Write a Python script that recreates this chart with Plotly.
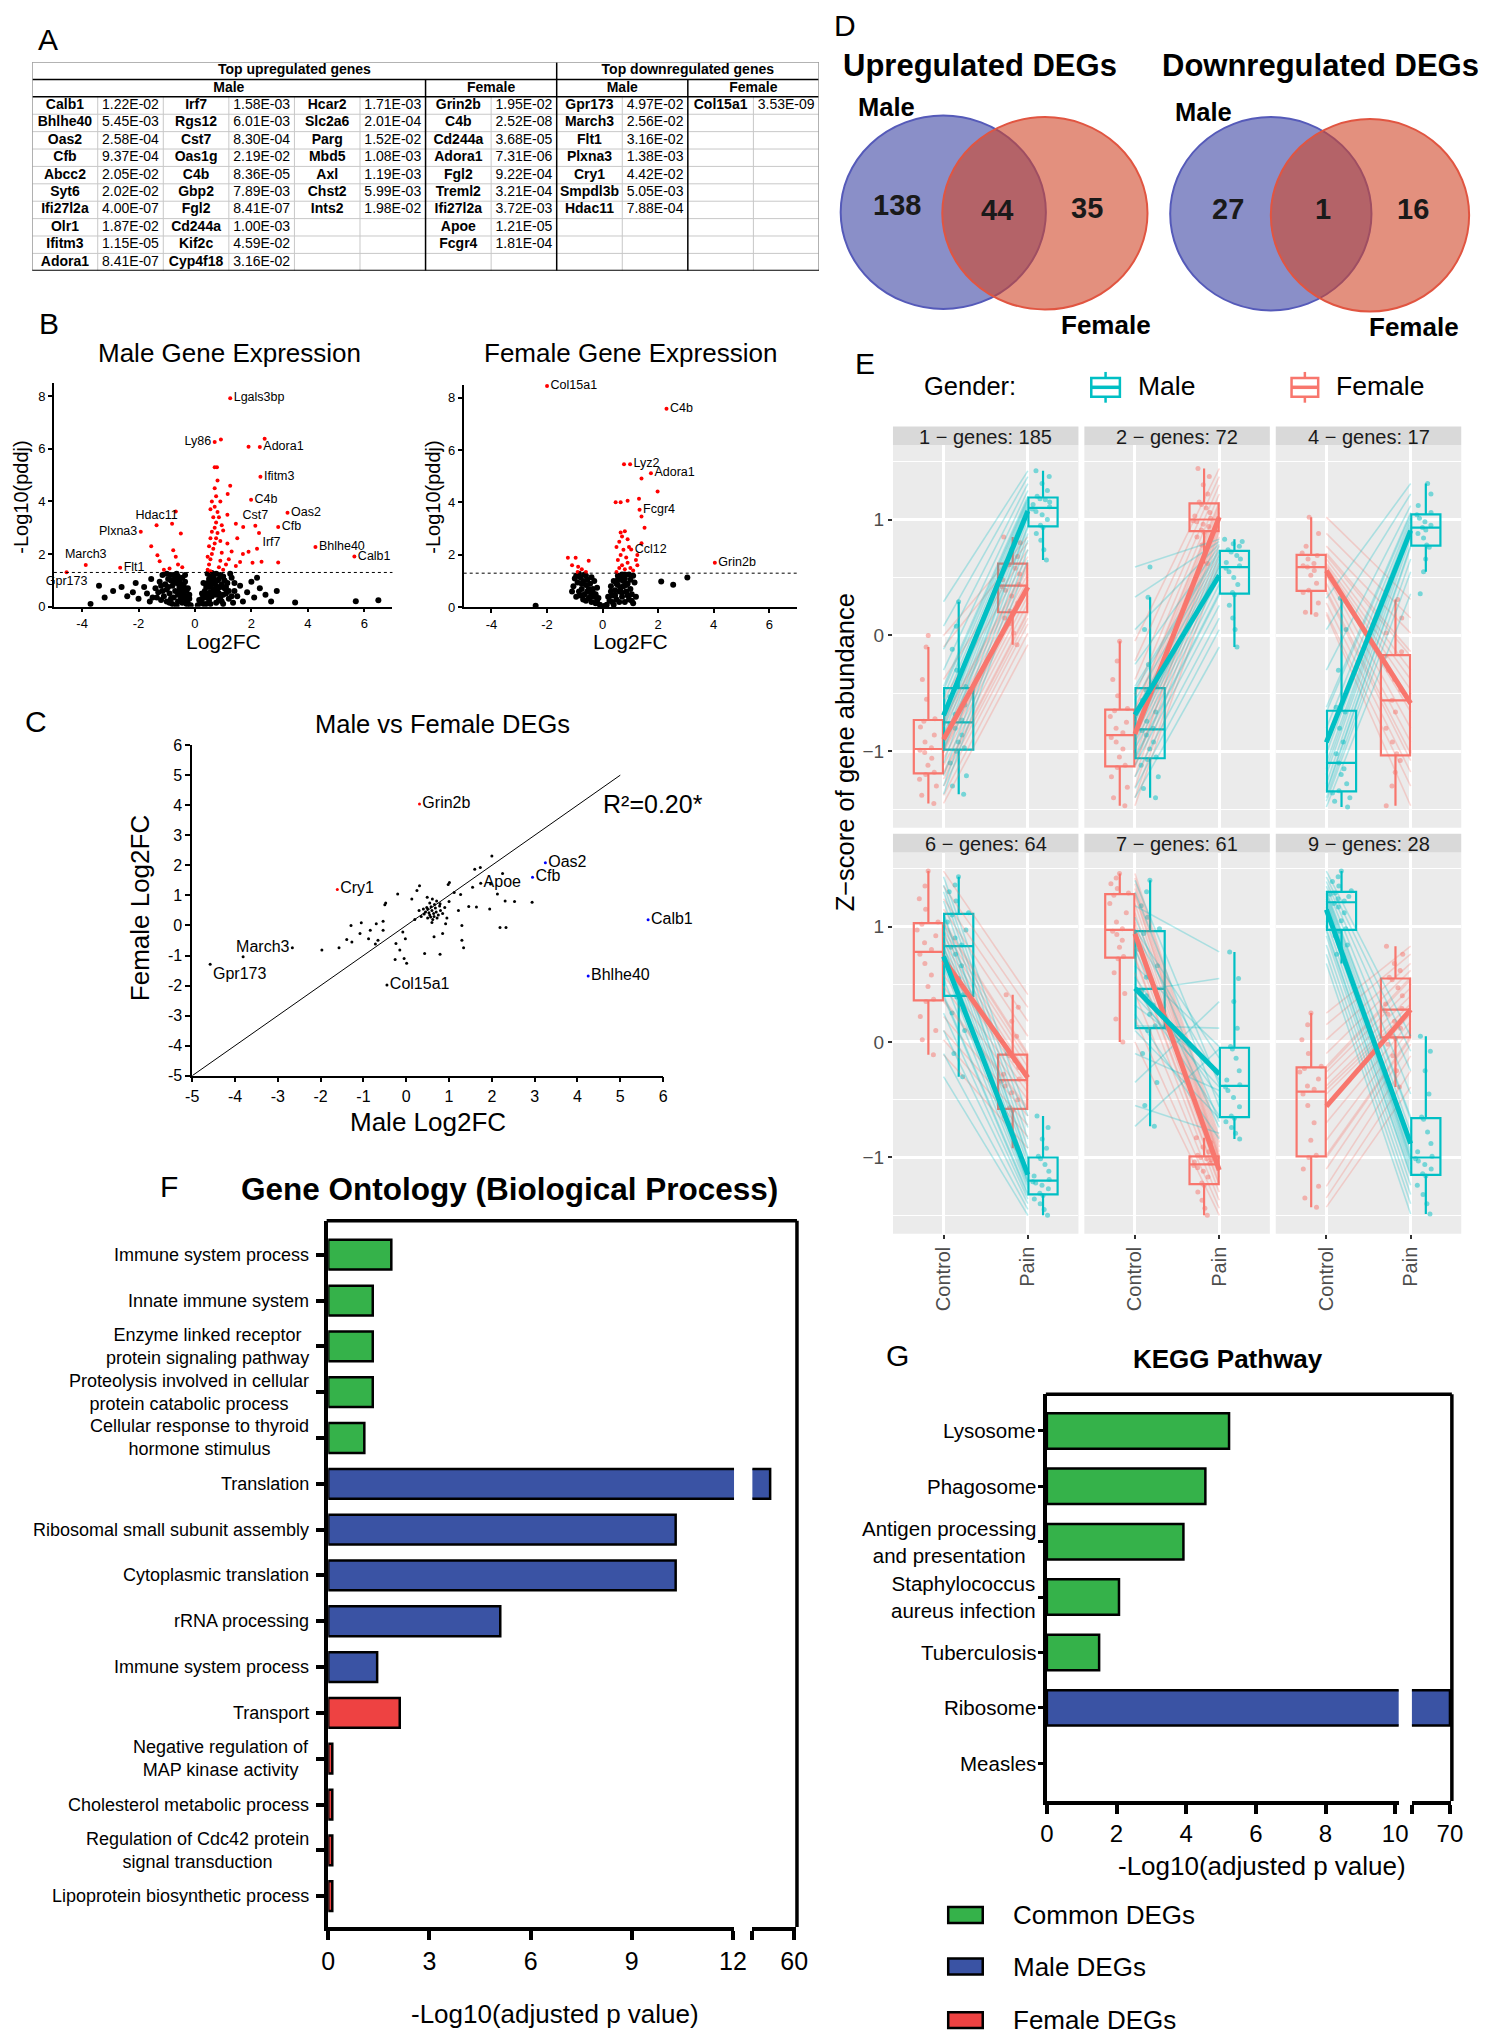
import numpy as np
import plotly.graph_objects as go

W, H = 1492, 2040
ARIAL = "Liberation Sans, Arial, Helvetica, sans-serif"
TEAL, SALMON = "#00BFC4", "#F8766D"
GREEN, BLUE, RED = "#35b24a", "#3a53a4", "#ee4242"

# ======================= DATA =======================
# ---- Panel A : table ----
up_male_g1 = ["Calb1", "Bhlhe40", "Oas2", "Cfb", "Abcc2", "Syt6", "Ifi27l2a", "Olr1", "Ifitm3", "Adora1"]
up_male_p1 = ["1.22E-02", "5.45E-03", "2.58E-04", "9.37E-04", "2.05E-02", "2.02E-02", "4.00E-07", "1.87E-02", "1.15E-05", "8.41E-07"]
up_male_g2 = ["Irf7", "Rgs12", "Cst7", "Oas1g", "C4b", "Gbp2", "Fgl2", "Cd244a", "Kif2c", "Cyp4f18"]
up_male_p2 = ["1.58E-03", "6.01E-03", "8.30E-04", "2.19E-02", "8.36E-05", "7.89E-03", "8.41E-07", "1.00E-03", "4.59E-02", "3.16E-02"]
up_male_g3 = ["Hcar2", "Slc2a6", "Parg", "Mbd5", "Axl", "Chst2", "Ints2"]
up_male_p3 = ["1.71E-03", "2.01E-04", "1.52E-02", "1.08E-03", "1.19E-03", "5.99E-03", "1.98E-02"]
up_female_g = ["Grin2b", "C4b", "Cd244a", "Adora1", "Fgl2", "Treml2", "Ifi27l2a", "Apoe", "Fcgr4"]
up_female_p = ["1.95E-02", "2.52E-08", "3.68E-05", "7.31E-06", "9.22E-04", "3.21E-04", "3.72E-03", "1.21E-05", "1.81E-04"]
down_male_g = ["Gpr173", "March3", "Flt1", "Plxna3", "Cry1", "Smpdl3b", "Hdac11"]
down_male_p = ["4.97E-02", "2.56E-02", "3.16E-02", "1.38E-03", "4.42E-02", "5.05E-03", "7.88E-04"]
down_female_g = ["Col15a1"]
down_female_p = ["3.53E-09"]
table_headers = ["Top upregulated genes", "Top downregulated genes"]
table_subheaders = ["Male", "Female", "Male", "Female"]

# ---- Panel B : volcano plots (Log2FC, -log10 padj) ----
male_black = [(-0.15, 0.05), (-0.25, 0.12), (-0.3, 0.25), (-0.35, 0.4), (-0.4, 0.55), (-0.45, 0.7), (-0.5, 0.85),
              (-0.55, 1.0), (-0.6, 1.15), (-0.65, 1.25), (-0.7, 1.1), (-0.75, 0.95), (-0.8, 0.8), (-0.7, 0.6),
              (-0.6, 0.45), (-0.5, 0.3), (-0.45, 0.15), (-0.6, 0.2), (-0.75, 0.35), (-0.9, 0.5), (-1.0, 0.65),
              (-1.05, 0.85), (-0.95, 1.05), (-0.85, 1.2), (-1.1, 0.4), (-1.2, 0.25), (-0.9, 0.15), (-1.3, 0.55),
              (-1.4, 0.7), (-1.25, 0.95), (-1.5, 0.35), (-1.6, 0.2), (-1.7, 0.5), (-1.8, 0.75), (-2.0, 0.3),
              (-2.2, 0.55), (-2.4, 0.4), (-2.6, 0.75), (-2.9, 0.6), (-3.2, 0.35), (-3.4, 0.8), (-3.7, 0.1),
              (-2.1, 0.9), (-1.55, 1.05), (-0.35, 0.95), (-0.25, 0.7), (-0.2, 0.45), (-1.15, 1.2), (-0.55, 0.6),
              (-0.8, 0.1), (0.1, 0.05), (0.2, 0.15), (0.25, 0.3), (0.3, 0.45), (0.35, 0.6), (0.4, 0.75), (0.45, 0.9),
              (0.5, 1.05), (0.55, 1.2), (0.6, 1.28), (0.65, 1.1), (0.7, 0.95), (0.75, 0.8), (0.8, 0.65), (0.85, 0.5),
              (0.9, 0.35), (0.95, 0.2), (1.0, 0.1), (0.6, 0.4), (0.5, 0.25), (0.7, 0.55), (0.4, 0.1), (0.75, 1.25),
              (0.85, 1.05), (0.95, 0.85), (1.05, 0.7), (1.1, 0.5), (1.2, 0.3), (1.15, 0.9), (1.3, 1.1), (1.4, 0.6),
              (1.5, 0.4), (1.6, 0.8), (1.7, 0.2), (1.85, 0.55), (2.0, 0.95), (2.1, 0.35), (2.3, 0.7), (2.5, 0.45),
              (2.7, 0.2), (2.9, 0.6), (3.55, 0.16), (5.7, 0.21), (6.5, 0.24), (1.35, 0.15), (0.3, 0.9), (0.45, 1.25),
              (0.9, 1.2), (1.25, 1.25), (2.2, 1.1),
              (-0.3, 0.1), (-0.4, 0.35), (-0.5, 0.5), (-0.55, 0.75), (-0.65, 0.9), (-0.75, 1.2), (-0.85, 1.0),
              (-0.95, 0.75), (-0.85, 0.3), (-1.0, 0.2), (-1.15, 0.6), (-1.2, 0.8), (-1.35, 0.35), (-0.65, 0.05),
              (-0.2, 0.3), (-0.3, 0.6), (-0.4, 0.8), (-0.45, 1.1), (-0.35, 1.2), (-1.0, 1.25), (0.15, 0.25),
              (0.25, 0.5), (0.35, 0.35), (0.4, 0.5), (0.45, 0.4), (0.55, 0.55), (0.5, 0.75), (0.6, 0.85),
              (0.65, 0.65), (0.55, 0.95), (0.65, 1.2), (0.8, 1.0), (0.9, 0.75), (0.75, 0.45), (0.85, 0.25),
              (1.0, 0.45), (1.1, 0.75), (1.05, 1.0), (1.2, 0.6), (1.3, 0.4), (0.3, 0.1), (0.55, 0.1), (0.75, 0.15),
              (1.4, 0.9), (1.0, 1.15)]
male_red = [(0.45, 1.4), (0.5, 1.6), (0.55, 1.8), (0.6, 2.0), (0.65, 2.2), (0.7, 2.4), (0.75, 2.6), (0.8, 2.8),
            (0.7, 3.0), (0.75, 3.2), (0.65, 3.4), (0.8, 3.6), (0.7, 3.8), (0.6, 4.0), (0.75, 4.2), (0.7, 4.5),
            (0.8, 4.8), (0.7, 5.3), (0.78, 5.3), (0.55, 1.35), (0.85, 1.5), (0.9, 1.75), (0.95, 2.05), (0.5, 2.3),
            (0.55, 2.6), (0.9, 2.5), (0.6, 2.85), (0.95, 3.1), (0.85, 3.4), (0.55, 3.7), (0.9, 4.0), (0.45, 1.9),
            (1.0, 1.4), (1.1, 1.6), (1.2, 1.8), (1.15, 2.4), (1.3, 2.1), (1.0, 2.9), (1.15, 3.5), (1.25, 4.6),
            (1.45, 1.55), (1.6, 1.7), (1.7, 2.0), (1.5, 2.6), (1.45, 3.15), (1.71, 3.03), (1.16, 4.28), (1.9, 2.09),
            (2.2, 2.2), (2.04, 1.67), (2.36, 1.71), (2.95, 1.68), (0.92, 6.36), (1.9, 6.08), (2.47, 6.39),
            (-0.68, 3.62), (-0.81, 3.15), (-0.5, 2.78), (-1.55, 2.3), (-1.33, 1.96), (-1.25, 1.73), (-0.77, 2.15),
            (-0.68, 1.9), (-0.6, 1.6), (-0.9, 1.45), (-1.1, 1.4), (-0.45, 1.5)]
male_lab_gene = ["Lgals3bp", "Ly86", "Adora1", "Ifitm3", "C4b", "Oas2", "Cst7", "Cfb", "Irf7", "Bhlhe40", "Calb1",
                 "Hdac11", "Plxna3", "March3", "Flt1", "Gpr173"]
male_lab_x = [1.25, 0.70, 2.30, 2.32, 1.99, 3.28, 2.14, 2.95, 2.27, 4.27, 5.65, -1.36, -1.92, -3.87, -2.65, -4.55]
male_lab_y = [7.93, 6.26, 6.07, 4.94, 4.07, 3.57, 3.08, 3.03, 2.80, 2.27, 1.91, 3.10, 2.85, 1.58, 1.48, 1.31]
male_lab_pos = ["middle right", "middle left", "middle right", "middle right", "middle right", "middle right",
                "top center", "middle right", "bottom right", "middle right", "middle right", "top center",
                "middle left", "top center", "middle right", "bottom center"]

female_black = [(0.05, 0.05), (-0.1, 0.1), (-0.2, 0.25), (-0.3, 0.4), (-0.4, 0.55), (-0.5, 0.7), (-0.6, 0.85),
                (-0.7, 1.0), (-0.8, 1.15), (-0.85, 1.28), (-0.6, 1.2), (-0.45, 0.9), (-0.35, 0.7), (-0.25, 0.5),
                (-0.5, 0.35), (-0.65, 0.5), (-0.75, 0.7), (-0.9, 0.95), (-1.0, 1.1), (-0.4, 0.2), (-0.7, 0.3),
                (-0.85, 0.6), (-1.05, 0.8), (-0.55, 1.05), (-0.3, 1.0), (-0.95, 0.4), (-1.1, 0.6), (-2.41, 0.06),
                (-0.2, 0.75), (-0.65, 1.25), (0.15, 0.1), (0.25, 0.25), (0.35, 0.45), (0.45, 0.65), (0.55, 0.85),
                (0.65, 1.05), (0.7, 1.25), (0.8, 1.1), (0.9, 0.9), (1.0, 0.7), (1.05, 0.5), (0.95, 0.3), (0.7, 0.4),
                (0.6, 0.6), (0.75, 0.8), (0.85, 0.6), (0.5, 0.3), (0.4, 0.1), (0.3, 0.8), (1.1, 1.2), (0.95, 1.25),
                (1.15, 0.95), (0.55, 1.2), (0.4, 1.0), (1.2, 0.4), (0.8, 0.2), (2.11, 0.98), (2.54, 0.86),
                (3.05, 1.14), (1.1, 0.15),
                (-0.15, 0.35), (-0.25, 0.15), (-0.35, 0.55), (-0.45, 0.4), (-0.55, 0.6), (-0.6, 0.25), (-0.8, 0.45),
                (-0.75, 0.9), (-0.4, 1.15), (-0.95, 1.2), (0.2, 0.4), (0.3, 0.6), (0.45, 0.45), (0.5, 0.9),
                (0.6, 0.2), (0.65, 0.75), (0.75, 1.0), (0.85, 0.85), (0.9, 0.45), (1.0, 1.05), (0.55, 1.05),
                (0.35, 0.2), (1.05, 0.25), (0.8, 1.25), (0.7, 0.55)]
female_red = [(0.5, 1.35), (0.6, 1.5), (0.7, 1.6), (0.8, 1.45), (0.9, 1.7), (1.0, 1.5), (0.55, 1.8), (0.65, 2.0),
              (0.75, 2.2), (0.85, 1.9), (0.95, 2.3), (0.6, 2.5), (0.7, 2.7), (0.8, 2.9), (0.9, 2.6), (0.5, 2.3),
              (1.1, 1.4), (1.2, 1.8), (1.25, 1.6), (0.65, 2.85), (0.47, 4.01), (0.65, 4.01), (0.9, 4.07),
              (1.31, 4.14), (1.4, 3.47), (1.51, 3.04), (1.4, 2.44), (1.4, 4.92), (1.98, 4.42), (0.77, 5.46),
              (1.25, 2.0), (-1.25, 1.89), (-0.97, 1.89), (-0.88, 1.55), (-0.5, 1.78), (-0.75, 1.45), (-1.1, 1.6),
              (-0.6, 1.35), (-0.9, 1.35)]
female_lab_gene = ["Col15a1", "C4b", "Lyz2", "Adora1", "Fcgr4", "Ccl12", "Grin2b"]
female_lab_x = [-2.0, 2.3, 0.99, 1.74, 1.33, 1.03, 4.04]
female_lab_y = [8.45, 7.58, 5.46, 5.12, 3.72, 2.21, 1.70]
female_lab_pos = ["middle right"] * 7
volcano_xticks = [-4, -2, 0, 2, 4, 6]
volcano_yticks = [0, 2, 4, 6, 8]
padj_cutoff = 0.05

# ---- Panel C : male vs female log2FC ----
c_points = [(2.0, 2.31), (1.73, 1.93), (1.6, 1.87), (2.25, 1.73), (1.01, 1.43), (0.98, 1.36), (0.31, 1.32),
            (1.55, 1.27), (2.13, 1.05), (-0.2, 1.05), (1.12, 1.1), (1.27, 1.03), (2.31, 0.81), (2.53, 0.8),
            (2.94, 0.77), (1.95, 0.55), (1.64, 0.61), (1.46, 0.63), (1.22, 0.5), (-0.48, 0.75), (0.13, 0.88),
            (0.49, 0.94), (0.79, 0.72), (0.71, 0.81), (2.19, -0.07), (2.33, -0.07), (1.3, 0.0), (0.92, 0.06),
            (0.85, -0.27), (0.65, -0.38), (1.3, -0.49), (1.34, -0.74), (0.79, -0.96), (0.43, -0.93), (-0.08, -0.22),
            (-0.02, -0.44), (-0.24, -0.6), (-0.15, -0.82), (-0.26, -1.13), (-0.05, -1.1), (0.01, -1.26),
            (-0.72, -0.62), (-0.84, -0.16), (-0.7, 0.06), (-0.54, 0.14), (-0.54, -0.16), (-1.05, 0.09),
            (-1.08, -0.27), (-1.29, 0.0), (-1.39, -0.47), (-1.27, -0.55), (-1.57, -0.74), (-1.97, -0.82),
            (-0.88, -0.44), (-0.66, -0.49), (-0.5, 0.69), (0.25, 1.16), (0.61, 0.88), (1.97, 1.38), (-3.81, -1.04),
            (0.45, 0.45), (0.5, 0.55), (0.55, 0.35), (0.6, 0.5), (0.65, 0.3), (0.7, 0.45), (0.5, 0.25),
            (0.58, 0.62), (0.62, 0.2), (0.68, 0.58), (0.42, 0.38), (0.75, 0.35), (0.8, 0.5), (0.53, 0.42),
            (0.64, 0.4), (0.57, 0.28), (0.48, 0.6), (0.72, 0.25), (0.85, 0.4), (0.4, 0.55), (0.66, 0.7),
            (0.55, 0.75), (0.9, 0.6), (0.35, 0.3), (0.6, 0.1), (0.95, 0.25), (0.3, 0.5), (0.78, 0.65), (1.0, 0.8),
            (0.2, 0.2)]
c_lab_gene = ["Grin2b", "Cry1", "Oas2", "Cfb", "Apoe", "Calb1", "Bhlhe40", "Col15a1", "March3", "Gpr173"]
c_lab_x = [0.31, -1.61, 3.25, 2.95, 1.74, 5.65, 4.25, -0.45, -2.66, -4.58]
c_lab_y = [4.04, 1.20, 2.09, 1.60, 1.40, 0.19, -1.68, -1.98, -0.74, -1.29]
c_lab_color = ["red", "red", "blue", "blue", "black", "blue", "blue", "black", "black", "black"]
c_lab_pos = ["middle right", "middle right", "middle right", "middle right", "middle right", "middle right",
             "middle right", "middle right", "middle left", "bottom right"]
c_ticks = [-5, -4, -3, -2, -1, 0, 1, 2, 3, 4, 5, 6]
c_identity = [-5, 5]
c_r2_text = "R²=0.20*"

# ---- Panel D : Venn counts (male only, shared, female only) ----
venn_titles = ["Upregulated DEGs", "Downregulated DEGs"]
venn_up = [138, 44, 35]
venn_down = [27, 1, 16]

# ---- Panel E : z-scores per cluster (paired Control/Pain values per gene) ----
e_clusters = [1, 2, 4, 6, 7, 9]
e_sizes = [185, 72, 17, 64, 61, 28]
c1_f_ctrl = [-1.45, -1.38, -1.30, -1.24, -1.20, -1.18, -1.12, -1.06, -1.01, -0.99, -0.97, -0.92, -0.86, -0.79, -0.74, -0.72, -0.55, -0.38, -0.10, 0.00]
c1_f_pain = [-0.08, 0.02, 0.10, 0.15, 0.19, 0.21, 0.28, 0.34, 0.39, 0.42, 0.44, 0.48, 0.53, 0.58, 0.61, 0.63, 0.68, 0.74, 0.80, 0.85]
c1_m_ctrl = [-1.37, -1.30, -1.21, -1.10, -1.00, -0.97, -0.92, -0.86, -0.80, -0.77, -0.73, -0.68, -0.60, -0.53, -0.47, -0.44, -0.30, -0.12, 0.08, 0.29]
c1_m_pain = [0.65, 0.74, 0.82, 0.88, 0.93, 0.95, 1.00, 1.04, 1.07, 1.09, 1.11, 1.13, 1.15, 1.17, 1.18, 1.20, 1.25, 1.31, 1.37, 1.42]
c2_f_ctrl = [-1.47, -1.40, -1.31, -1.22, -1.14, -1.12, -1.05, -0.98, -0.92, -0.88, -0.84, -0.80, -0.75, -0.70, -0.65, -0.63, -0.52, -0.38, -0.22, -0.05]
c2_f_pain = [0.62, 0.70, 0.78, 0.85, 0.89, 0.91, 0.94, 0.96, 0.98, 0.99, 1.01, 1.03, 1.06, 1.10, 1.13, 1.15, 1.22, 1.30, 1.37, 1.44]
c2_m_ctrl = [-1.40, -1.32, -1.22, -1.12, -1.07, -1.05, -0.98, -0.92, -0.86, -0.82, -0.80, -0.74, -0.66, -0.56, -0.47, -0.44, -0.25, 0.05, 0.33, 0.59]
c2_m_pain = [-0.10, 0.05, 0.15, 0.26, 0.35, 0.37, 0.44, 0.50, 0.55, 0.58, 0.60, 0.63, 0.66, 0.69, 0.72, 0.74, 0.77, 0.79, 0.81, 0.83]
c4_f_ctrl = [0.18, 0.20, 0.28, 0.37, 0.39, 0.45, 0.52, 0.56, 0.59, 0.60, 0.62, 0.66, 0.69, 0.71, 0.77, 0.88, 1.02]
c4_f_pain = [-1.47, -1.30, -1.18, -1.08, -1.02, -0.92, -0.80, -0.66, -0.56, -0.47, -0.38, -0.30, -0.18, -0.14, 0.02, 0.15, 0.31]
c4_m_ctrl = [-1.48, -1.43, -1.40, -1.36, -1.34, -1.28, -1.20, -1.15, -1.10, -1.02, -0.92, -0.80, -0.66, -0.62, -0.30, 0.05, 0.32]
c4_m_pain = [0.36, 0.55, 0.66, 0.76, 0.78, 0.84, 0.88, 0.91, 0.93, 0.95, 0.98, 1.01, 1.04, 1.06, 1.12, 1.22, 1.31]
c6_f_ctrl = [-0.11, 0.02, 0.10, 0.22, 0.35, 0.37, 0.48, 0.58, 0.68, 0.76, 0.80, 0.86, 0.92, 0.97, 1.02, 1.04, 1.15, 1.24, 1.35, 1.48]
c6_f_pain = [-0.92, -0.82, -0.72, -0.64, -0.59, -0.57, -0.50, -0.44, -0.38, -0.34, -0.32, -0.28, -0.22, -0.16, -0.12, -0.10, 0.05, 0.18, 0.30, 0.41]
c6_m_ctrl = [-0.30, -0.10, 0.10, 0.25, 0.39, 0.41, 0.55, 0.66, 0.76, 0.82, 0.84, 0.90, 0.97, 1.04, 1.10, 1.12, 1.22, 1.30, 1.36, 1.43]
c6_m_pain = [-1.50, -1.45, -1.40, -1.36, -1.33, -1.31, -1.27, -1.24, -1.22, -1.21, -1.19, -1.16, -1.12, -1.06, -1.01, -0.99, -0.92, -0.84, -0.74, -0.64]
c7_f_ctrl = [0.00, 0.20, 0.42, 0.60, 0.72, 0.74, 0.82, 0.88, 0.93, 0.96, 0.98, 1.04, 1.12, 1.20, 1.27, 1.29, 1.33, 1.37, 1.42, 1.46]
c7_f_pain = [-1.50, -1.44, -1.37, -1.30, -1.24, -1.22, -1.17, -1.12, -1.09, -1.07, -1.05, -1.04, -1.02, -1.01, -1.00, -0.98, -0.95, -0.91, -0.87, -0.83]
c7_m_ctrl = [-0.73, -0.55, -0.35, -0.10, 0.10, 0.14, 0.24, 0.32, 0.40, 0.44, 0.48, 0.56, 0.66, 0.80, 0.94, 0.98, 1.08, 1.18, 1.30, 1.40]
c7_m_pain = [-0.06, -0.79, 0.35, -0.42, -0.66, 0.12, -0.84, -0.25, -0.39, 0.55, -0.64, -0.48, -0.04, -0.74, -0.33, -0.14, -0.69, 0.78, -0.56, -0.37]
c9_f_ctrl = [-1.43, -1.35, -1.25, -1.10, -1.00, -0.98, -0.85, -0.70, -0.55, -0.45, -0.41, -0.38, -0.32, -0.26, -0.23, -0.21, -0.10, 0.02, 0.15, 0.25]
c9_f_pain = [-0.39, -0.25, -0.12, -0.02, 0.03, 0.05, 0.12, 0.18, 0.24, 0.27, 0.29, 0.33, 0.40, 0.47, 0.54, 0.56, 0.62, 0.68, 0.76, 0.83]
c9_m_ctrl = [0.68, 0.76, 0.84, 0.92, 0.96, 0.98, 1.05, 1.12, 1.17, 1.20, 1.22, 1.24, 1.26, 1.28, 1.29, 1.31, 1.35, 1.39, 1.43, 1.48]
c9_m_pain = [-1.49, -1.40, -1.32, -1.24, -1.16, -1.14, -1.10, -1.06, -1.03, -1.01, -0.99, -0.95, -0.88, -0.78, -0.67, -0.65, -0.45, -0.25, -0.08, 0.05]
e_conditions = ["Control", "Pain"]
e_yticks = [-1, 0, 1]

# ---- Panel F : GO biological process ----
go_terms = ["Immune system process", "Innate immune system", "Enzyme linked receptor<br>protein signaling pathway",
            "Proteolysis involved in cellular<br>protein catabolic process",
            "Cellular response to thyroid<br>hormone stimulus", "Translation", "Ribosomal small subunit assembly",
            "Cytoplasmic translation", "rRNA processing", "Immune system process", "Transport",
            "Negative regulation of<br>MAP kinase activity", "Cholesterol metabolic process",
            "Regulation of Cdc42 protein<br>signal transduction", "Lipoprotein biosynthetic process"]
go_values = [1.87, 1.32, 1.32, 1.32, 1.07, 57.7, 10.3, 10.3, 5.1, 1.45, 2.12, 0.12, 0.12, 0.12, 0.12]
go_group = ["Common"] * 5 + ["Male"] * 5 + ["Female"] * 5
go_ticks_left = [0, 3, 6, 9, 12]
go_tick_right = 60

# ---- Panel G : KEGG ----
kegg_terms = ["Lysosome", "Phagosome", "Antigen processing<br>and presentation", "Staphylococcus<br>aureus infection",
              "Tuberculosis", "Ribosome", "Measles"]
kegg_values = [5.23, 4.55, 3.92, 2.07, 1.50, 70.0, 0.0]
kegg_group = ["Common"] * 5 + ["Male", "Female"]
kegg_ticks_left = [0, 2, 4, 6, 8, 10]
kegg_tick_right = 70
legend_groups = ["Common", "Male", "Female"]
legend_labels = ["Common DEGs", "Male DEGs", "Female DEGs"]
group_colors = {"Common": GREEN, "Male": BLUE, "Female": RED}

# ======================= FIGURE =======================
fig = go.Figure()
shapes, annotations, axes = [], [], {}


def px(x):
    return x / W


def py(y):
    return 1 - y / H


def dom_x(a, b):
    return [a / W, b / W]


def dom_y(top, bottom):
    return [1 - bottom / H, 1 - top / H]


def label(x, y, text, size, bold=False, color="black", **kw):
    kw.setdefault("xanchor", "center")
    kw.setdefault("yanchor", "middle")
    annotations.append(dict(x=px(x), y=py(y), xref="paper", yref="paper",
                            text=f"<b>{text}</b>" if bold else text, showarrow=False,
                            font=dict(family=ARIAL, size=size, color=color), **kw))


def pline(x0, y0, x1, y1, color="black", width=3.5):
    shapes.append(dict(type="line", xref="paper", yref="paper", x0=px(x0), y0=py(y0), x1=px(x1), y1=py(y1),
                       line=dict(color=color, width=width)))


# panel letters
for letter, (lx, ly) in zip("ABCDEFG", [(41.5, 32), (43, 318), (29, 719), (849, 18), (870, 358), (164, 1188), (903, 1359)]):
    label(lx, ly, letter, 30)

# ---------------- Panel A ----------------
axes["xaxis"] = dict(domain=dom_x(25.5, 823), range=[0, 12], visible=False, anchor="y", fixedrange=True)
axes["yaxis"] = dict(domain=dom_y(54.5, 265), range=[12, 0], visible=False, anchor="x", fixedrange=True)
table_cols = [(up_male_g1, up_male_p1), (up_male_g2, up_male_p2), (up_male_g3, up_male_p3),
              (up_female_g, up_female_p), (down_male_g, down_male_p), (down_female_g, down_female_p)]
gx, gy, gt, vx, vy, vt = [], [], [], [], [], []
for k, (gl, pl) in enumerate(table_cols):
    for r, (g, p) in enumerate(zip(gl, pl)):
        gx.append(2 * k + 0.5); gy.append(r + 2.5); gt.append(f"<b>{g}</b>")
        vx.append(2 * k + 1.5); vy.append(r + 2.5); vt.append(p)
fig.add_trace(go.Scatter(x=gx, y=gy, text=gt, mode="text", xaxis="x", yaxis="y", hoverinfo="skip",
                         textfont=dict(family=ARIAL, size=14, color="black")))
fig.add_trace(go.Scatter(x=vx, y=vy, text=vt, mode="text", xaxis="x", yaxis="y", hoverinfo="skip",
                         textfont=dict(family=ARIAL, size=14, color="black")))
hx = [4, 10]
sx = [3, 7, 9, 11]
fig.add_trace(go.Scatter(x=hx + sx, y=[0.5] * 2 + [1.5] * 4,
                         text=[f"<b>{t}</b>" for t in table_headers + table_subheaders], mode="text",
                         xaxis="x", yaxis="y", hoverinfo="skip", textfont=dict(family=ARIAL, size=14, color="black")))


def tline(x0, y0, x1, y1, color, w):
    shapes.append(dict(type="line", xref="x", yref="y", x0=x0, y0=y0, x1=x1, y1=y1, line=dict(color=color, width=w)))


for r in range(3, 12):
    tline(0, r, 12, r, "#c8c8c8", 1)
for c in [1, 2, 3, 4, 5, 7, 9, 11]:
    tline(c, 2, c, 12, "#c8c8c8", 1)
for r in [1, 2]:
    tline(0, r, 12, r, "black", 1.5)
tline(8, 0, 8, 12, "black", 1.5)
for c in [6, 10]:
    tline(c, 1, c, 12, "black", 1.5)
tline(0, 0, 12, 0, "#9a9a9a", 1.5)
tline(0, 0, 0, 12, "#9a9a9a", 1.5)
tline(12, 0, 12, 12, "#9a9a9a", 1.5)
tline(0, 12, 12, 12, "black", 2)

# ---------------- Panel B ----------------
sig_line = -np.log10(padj_cutoff)


def volcano(k, xd, yd, black, red, lg, lx, ly, lp):
    xa, ya = f"x{k}", f"y{k}"
    tick = dict(showline=True, linecolor="black", linewidth=1.5, ticks="outside", ticklen=4, tickwidth=1.5,
                tickcolor="black", tickfont=dict(family=ARIAL, size=13, color="black"), showgrid=False,
                zeroline=False)
    axes[f"xaxis{k}"] = dict(domain=xd, anchor=ya, range=[-5, 7], tickvals=volcano_xticks,
                             ticktext=[str(v) for v in volcano_xticks], **tick)
    axes[f"yaxis{k}"] = dict(domain=yd, anchor=xa, range=[0, 8.5], tickvals=volcano_yticks,
                             ticktext=[str(v) for v in volcano_yticks], **tick)
    fig.add_trace(go.Scatter(x=[p[0] for p in black], y=[p[1] for p in black], mode="markers", xaxis=xa, yaxis=ya,
                             marker=dict(color="black", size=6), hoverinfo="skip"))
    fig.add_trace(go.Scatter(x=[p[0] for p in red], y=[p[1] for p in red], mode="markers", xaxis=xa, yaxis=ya,
                             marker=dict(color="#ff0000", size=4), hoverinfo="skip"))
    fig.add_trace(go.Scatter(x=lx, y=ly, text=lg, textposition=lp, mode="markers+text", xaxis=xa, yaxis=ya,
                             marker=dict(color="#ff0000", size=4), cliponaxis=False, hoverinfo="skip",
                             textfont=dict(family=ARIAL, size=12.5, color="black")))
    shapes.append(dict(type="line", xref=f"{xa} domain", yref=ya, x0=0, x1=1, y0=sig_line, y1=sig_line,
                       line=dict(color="black", width=1, dash="dot")))


volcano(2, dom_x(47.5, 390.7), dom_y(378.3, 603.7), male_black, male_red, male_lab_gene, male_lab_x, male_lab_y, male_lab_pos)
volcano(3, dom_x(462.9, 800.8), dom_y(379.8, 604.3), female_black, female_red, female_lab_gene, female_lab_x, female_lab_y, female_lab_pos)
label(226, 348, "Male Gene Expression", 26)
label(632, 348, "Female Gene Expression", 26)
label(219, 639, "Log2FC", 21)
label(632, 639, "Log2FC", 21)
label(14, 493, "-Log10(pddj)", 20, textangle=-90)
label(431.6, 493, "-Log10(pddj)", 20, textangle=-90)

# ---------------- Panel C ----------------
ctick = dict(showline=True, linecolor="black", linewidth=1.5, ticks="outside", ticklen=5, tickwidth=1.5,
             tickcolor="black", tickfont=dict(family=ARIAL, size=16, color="black"), showgrid=False,
             zeroline=False, tickvals=c_ticks, ticktext=[str(v) for v in c_ticks])
axes["xaxis4"] = dict(domain=dom_x(187.7, 665), anchor="y4", range=[-5, 6], **ctick)
axes["yaxis4"] = dict(domain=dom_y(743.3, 1076.7), anchor="x4", range=[-5, 6], **ctick)
fig.add_trace(go.Scatter(x=c_identity, y=c_identity, mode="lines", line=dict(color="black", width=1),
                         xaxis="x4", yaxis="y4", hoverinfo="skip"))
fig.add_trace(go.Scatter(x=[p[0] for p in c_points], y=[p[1] for p in c_points], mode="markers",
                         marker=dict(color="black", size=3), xaxis="x4", yaxis="y4", hoverinfo="skip"))
fig.add_trace(go.Scatter(x=c_lab_x, y=c_lab_y, text=c_lab_gene, textposition=c_lab_pos, mode="markers+text",
                         marker=dict(color=c_lab_color, size=3), xaxis="x4", yaxis="y4", cliponaxis=False,
                         hoverinfo="skip", textfont=dict(family=ARIAL, size=16, color="black")))
annotations.append(dict(x=5.76, y=4.05, xref="x4", yref="y4", text=c_r2_text, showarrow=False,
                        xanchor="center", yanchor="middle", font=dict(family=ARIAL, size=25, color="black")))
label(441.6, 722, "Male vs Female DEGs", 25.5)
label(427, 1123, "Male Log2FC", 26)
label(135.6, 908, "Female Log2FC", 26, textangle=-90)

# ---------------- Panel D ----------------
venn_geo = [((845, 108.5, 1053, 303.5), (948, 110, 1156, 304), 986, [(902, 199), (1003, 204), (1095, 202)]),
            ((1179, 110, 1383, 305), (1281, 112, 1482, 306), 1331, [(1238, 203), (1334, 203), (1425, 203)])]
for (bl, rd, tx, npos), title, counts in zip(venn_geo, venn_titles, [venn_up, venn_down]):
    shapes.append(dict(type="circle", xref="paper", yref="paper", x0=px(bl[0]), x1=px(bl[2]), y0=py(bl[3]),
                       y1=py(bl[1]), fillcolor="rgba(99,105,181,0.75)", line=dict(color="rgb(85,90,185)", width=2)))
    shapes.append(dict(type="circle", xref="paper", yref="paper", x0=px(rd[0]), x1=px(rd[2]), y0=py(rd[3]),
                       y1=py(rd[1]), fillcolor="rgba(208,70,40,0.6)", line=dict(color="rgb(225,85,65)", width=2)))
    label(tx, 58, title, 31, bold=True)
    for (nx, ny), cnt in zip(npos, counts):
        label(nx, ny, str(cnt), 29, bold=True, color="#1a1a1a")
label(891, 100, "Male", 25.5, bold=True)
label(1114, 320, "Female", 26, bold=True)
label(1213, 105, "Male", 25.5, bold=True)
label(1426, 322, "Female", 26, bold=True)

# ---------------- Panel E ----------------
e_f_ctrl = [c1_f_ctrl, c2_f_ctrl, c4_f_ctrl, c6_f_ctrl, c7_f_ctrl, c9_f_ctrl]
e_f_pain = [c1_f_pain, c2_f_pain, c4_f_pain, c6_f_pain, c7_f_pain, c9_f_pain]
e_m_ctrl = [c1_m_ctrl, c2_m_ctrl, c4_m_ctrl, c6_m_ctrl, c7_m_ctrl, c9_m_ctrl]
e_m_pain = [c1_m_pain, c2_m_pain, c4_m_pain, c6_m_pain, c7_m_pain, c9_m_pain]
e_cols = [(898, 1086), (1092, 1280), (1286, 1474)]
e_rows = [(441, 826.7), (851.7, 1236)]
e_strips = [(422, 441), (832.7, 851.7)]
for i in range(6):
    r, c = divmod(i, 3)
    k = 5 + i
    xa, ya = f"x{k}", f"y{k}"
    axes[f"xaxis{k}"] = dict(domain=dom_x(*e_cols[c]), anchor=ya, type="category", categoryorder="array",
                             categoryarray=e_conditions, range=[-0.6, 1.6], showgrid=True, gridcolor="white",
                             gridwidth=2.5, zeroline=False, showline=False,
                             ticks="outside" if r == 1 else "", ticklen=4, tickwidth=1.5, tickcolor="#333333",
                             showticklabels=(r == 1), tickangle=-90,
                             tickfont=dict(family=ARIAL, size=20, color="#4d4d4d"))
    axes[f"yaxis{k}"] = dict(domain=dom_y(*e_rows[r]), anchor=xa, range=[-1.66, 1.64], tickvals=e_yticks,
                             showgrid=True, gridcolor="white", gridwidth=2.5, zeroline=False, showline=False,
                             minor=dict(tickvals=[-1.5, -0.5, 0.5, 1.5], showgrid=True, gridcolor="white",
                                        gridwidth=1.2),
                             ticks="outside" if c == 0 else "", ticklen=4, tickwidth=1.5, tickcolor="#333333",
                             showticklabels=(c == 0), tickfont=dict(family=ARIAL, size=19, color="#4d4d4d"))
    shapes.append(dict(type="rect", xref=f"{xa} domain", yref=f"{ya} domain", x0=0, x1=1, y0=0, y1=1,
                       fillcolor="#EBEBEB", line=dict(width=0), layer="below"))
    shapes.append(dict(type="rect", xref="paper", yref="paper", x0=px(e_cols[c][0]), x1=px(e_cols[c][1]),
                       y0=py(e_strips[r][1]), y1=py(e_strips[r][0]), fillcolor="#D9D9D9", line=dict(width=0),
                       layer="below"))
    label((e_cols[c][0] + e_cols[c][1]) / 2, (e_strips[r][0] + e_strips[r][1]) / 2 + 1,
          f"{e_clusters[i]} \u2212 genes: {e_sizes[i]}", 20, color="#1a1a1a")
    groups = [(e_f_ctrl[i], e_f_pain[i], SALMON, "rgba(248,118,109,0.28)", "F"),
              (e_m_ctrl[i], e_m_pain[i], TEAL, "rgba(0,191,196,0.28)", "M")]
    for ctrl, pain, col, tcol, og in groups:
        for a, b in zip(ctrl, pain):
            fig.add_trace(go.Scatter(x=e_conditions, y=[a, b], mode="lines", line=dict(color=tcol, width=1.6),
                                     xaxis=xa, yaxis=ya, hoverinfo="skip"))
    for ctrl, pain, col, tcol, og in groups:
        fig.add_trace(go.Box(x=[e_conditions[0]] * len(ctrl) + [e_conditions[1]] * len(pain), y=ctrl + pain,
                             offsetgroup=og, boxpoints="all", jitter=0.8, pointpos=0, whiskerwidth=0,
                             marker=dict(color=col, size=5, opacity=0.5), line=dict(color=col, width=2.2),
                             fillcolor="rgba(0,0,0,0)", xaxis=xa, yaxis=ya, hoverinfo="skip"))
    for ctrl, pain, col, tcol, og in groups:
        fig.add_trace(go.Scatter(x=e_conditions, y=[float(np.mean(ctrl)), float(np.mean(pain))], mode="lines",
                                 line=dict(color=col, width=5), xaxis=xa, yaxis=ya, hoverinfo="skip"))
label(849, 751, "Z\u2212score of gene abundance", 25.5, textangle=-90)
# legend of panel E
label(976, 381, "Gender:", 25.5)
for (x0, x1), name, col in [((1099, 1128), "Male", TEAL), ((1302, 1329), "Female", SALMON)]:
    shapes.append(dict(type="rect", xref="paper", yref="paper", x0=px(x0), x1=px(x1), y0=py(392), y1=py(373),
                       line=dict(color=col, width=2.5)))
    pline(x0, 382.5, x1, 382.5, col, 3.5)
    pline((x0 + x1) / 2, 367, (x0 + x1) / 2, 373, col, 2.5)
    pline((x0 + x1) / 2, 392, (x0 + x1) / 2, 398, col, 2.5)
    label(x1 + 16, 381, name, 26.5, xanchor="left")

# ---------------- Panel F ----------------
ftick = dict(showline=True, linecolor="black", linewidth=3.5, ticks="outside", ticklen=9, tickwidth=3.5,
             tickcolor="black", showgrid=False, zeroline=False)
axes["xaxis11"] = dict(domain=dom_x(325.6, 736.9), anchor="y11", range=[0, 12.03], tickvals=go_ticks_left,
                       tickfont=dict(family=ARIAL, size=25, color="black"), **ftick)
axes["xaxis12"] = dict(domain=dom_x(755.5, 800), anchor="y11", range=[56, 60.2], tickvals=[56, go_tick_right],
                       ticktext=["", str(go_tick_right)], tickfont=dict(family=ARIAL, size=25, color="black"), **ftick)
axes["yaxis11"] = dict(domain=dom_y(1223, 1935), anchor="x11", range=[len(go_terms) - 0.33, -0.74],
                       tickvals=list(range(len(go_terms))), showticklabels=False,
                       **{**ftick, "ticklen": 8})
for grp in legend_groups:
    idx = [i for i, g in enumerate(go_group) if g == grp]
    for xa in ["x11", "x12"]:
        fig.add_trace(go.Bar(x=[go_values[i] for i in idx], y=idx, orientation="h", width=0.65,
                             marker=dict(color=group_colors[grp], line=dict(color="black", width=2.5)),
                             xaxis=xa, yaxis="y11", hoverinfo="skip"))
for i, term in enumerate(go_terms):
    annotations.append(dict(x=px(308), y=i, xref="paper", yref="y11", text=term, showarrow=False,
                            xanchor="right", yanchor="middle", align="center",
                            font=dict(family=ARIAL, size=18, color="black")))
pline(324, 1223, 800.7, 1223)
pline(800.7, 1223, 800.7, 1935)
label(509, 1191, "Gene Ontology (Biological Process)", 31.5, bold=True)
label(555, 2023, "-Log10(adjusted p value)", 26)

# ---------------- Panel G ----------------
axes["xaxis13"] = dict(domain=dom_x(1054, 1410.6), anchor="y13", range=[0, 10.1], tickvals=kegg_ticks_left,
                       tickfont=dict(family=ARIAL, size=24, color="black"), **ftick)
axes["xaxis14"] = dict(domain=dom_x(1424, 1464), anchor="y13", range=[66, 70.15], tickvals=[66, kegg_tick_right],
                       ticktext=["", str(kegg_tick_right)], tickfont=dict(family=ARIAL, size=24, color="black"), **ftick)
axes["yaxis13"] = dict(domain=dom_y(1398, 1808), anchor="x13", range=[len(kegg_terms) - 0.32, -0.66],
                       tickvals=list(range(len(kegg_terms))), showticklabels=False,
                       **{**ftick, "ticklen": 5, "tickwidth": 3})
for grp in legend_groups:
    idx = [i for i, g in enumerate(kegg_group) if g == grp and kegg_values[i] > 0]
    for xa in ["x13", "x14"]:
        fig.add_trace(go.Bar(x=[kegg_values[i] for i in idx], y=idx, orientation="h", width=0.64,
                             marker=dict(color=group_colors[grp], line=dict(color="black", width=2.5)),
                             xaxis=xa, yaxis="y13", hoverinfo="skip"))
for i, term in enumerate(kegg_terms):
    annotations.append(dict(x=px(1045), y=i, xref="paper", yref="y13", text=term, showarrow=False,
                            xanchor="right", yanchor="middle", align="center",
                            font=dict(family=ARIAL, size=20.5, color="black")))
pline(1053, 1398, 1464.5, 1398)
pline(1464.5, 1398, 1464.5, 1808)
label(1238, 1362, "KEGG Pathway", 26, bold=True)
label(1272, 1874, "-Log10(adjusted p value)", 26)
for grp, lab, yc in zip(legend_groups, legend_labels, [1923, 1975, 2029]):
    shapes.append(dict(type="rect", xref="paper", yref="paper", x0=px(954), x1=px(989), y0=py(yc + 8),
                       y1=py(yc - 8), fillcolor=group_colors[grp], line=dict(color="black", width=2.5)))
    label(1018, yc, lab, 26, xanchor="left")

fig.update_layout(width=W, height=H, margin=dict(l=0, r=0, t=0, b=0), autosize=False,
                  paper_bgcolor="white", plot_bgcolor="white", showlegend=False,
                  barmode="overlay", boxmode="group", boxgap=0.28, boxgroupgap=0.04,
                  shapes=shapes, annotations=annotations, **axes)
fig.write_html("out.html", config={"displayModeBar": False},
               post_script="document.body.style.margin='0px';document.body.style.overflow='hidden';")
